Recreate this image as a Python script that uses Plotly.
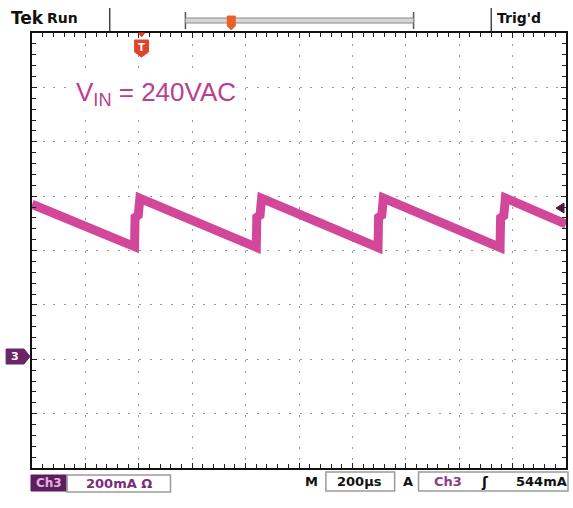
import plotly.graph_objects as go

# ---- data ----
time_us = [0, 384, 386, 398, 404, 840, 842, 854, 860, 1296, 1298, 1310, 1316,
           1753, 1755, 1767, 1773, 2000]
current_mA = [570, 414, 522, 530, 592, 412, 522, 530, 592, 411, 522, 530, 593,
              411, 520, 528, 593, 497]

x_range = [0, 2000]      # 200 us/div, 10 div
y_range = [-400, 1200]   # 200 mA/div, 8 div, ground 2 div above bottom
x_div = 200
y_div = 200

W, H = 573, 508
L, R, T, B = 32, 5, 33, 40
PW, PH = W - L - R, H - T - B

def X(px):
    return (px - L) / PW

def Y(py):
    return (H - B - py) / PH

TRACE = "#d2479a"
PURPLE = "#6a2468"
FONT = "DejaVu Sans"

fig = go.Figure()
fig.add_trace(go.Scatter(x=time_us, y=current_mA, mode="lines",
                         line=dict(color=TRACE, width=9),
                         hoverinfo="skip", showlegend=False))

axis_common = dict(showline=True, linecolor="#111", linewidth=2, mirror="ticks",
                   ticks="inside", ticklen=5, tickcolor="#222", tickwidth=1,
                   showticklabels=False, zeroline=False, gridcolor="#9a9a9a",
                   gridwidth=1, fixedrange=True)

fig.update_xaxes(range=x_range, dtick=x_div, tick0=0, griddash="2px,8.9px",
                 minor=dict(dtick=x_div / 5, ticks="inside", ticklen=4,
                            tickcolor="#222", showgrid=False),
                 **axis_common)
fig.update_yaxes(range=y_range, dtick=y_div, tick0=0, griddash="2px,8.7px",
                 minor=dict(dtick=y_div / 5, ticks="inside", ticklen=4,
                            tickcolor="#222", showgrid=False),
                 **axis_common)

shapes = []
ann = []

def text(px, py, s, size=13, color="#111", xanchor="center", bold=True, bg=None, family=FONT):
    d = dict(x=X(px), y=Y(py), xref="paper", yref="paper", text=("<b>%s</b>" % s) if bold else s,
             showarrow=False, xanchor=xanchor, yanchor="middle", borderpad=0,
             font=dict(size=size, color=color, family=family))
    if bg:
        d["bgcolor"] = bg
    ann.append(d)

def rect(x0, y0, x1, y1, fill=None, line="#9a9a9a", lw=1.5):
    shapes.append(dict(type="rect", xref="paper", yref="paper",
                       x0=X(x0), x1=X(x1), y0=Y(y0), y1=Y(y1),
                       fillcolor=fill if fill else "rgba(0,0,0,0)",
                       line=dict(color=line, width=lw)))

def line(x0, y0, x1, y1, color="#333", w=1.5):
    shapes.append(dict(type="line", xref="paper", yref="paper",
                       x0=X(x0), x1=X(x1), y0=Y(y0), y1=Y(y1),
                       line=dict(color=color, width=w)))

def poly(pts, fill, line_color=None):
    p = "M " + " L ".join("%f,%f" % (X(a), Y(b)) for a, b in pts) + " Z"
    shapes.append(dict(type="path", xref="paper", yref="paper", path=p,
                       fillcolor=fill, line=dict(color=line_color or fill, width=1)))

# ---- top status bar ----
text(10, 18, "Tek", size=17, xanchor="left")
text(46, 18, "Run", size=14, xanchor="left")
line(110, 8, 110, 31, "#444", 1.5)
line(186, 12, 186, 29, "#555", 1.5)
line(415, 12, 415, 29, "#555", 1.5)
rect(186, 18, 415, 23, fill="#d6d6d6", line="#8a8a8a", lw=1)
poly([(228, 16), (236, 16), (236, 26), (232, 30), (228, 26)], "#e8602c")
line(493, 8, 493, 31, "#444", 1.5)
text(498, 18, "Trig'd", size=14, xanchor="left")

# trigger position marker
poly([(139, 33), (145, 33), (142, 37)], "#e0452b")
poly([(135, 40), (149, 40), (149, 52), (142, 57), (135, 52)], "#e0452b")
text(142, 47, "T", size=10, color="white")

# trigger level arrow at right
poly([(566, 203), (566, 213), (558, 208)], "#4a1a40")

# channel 3 ground marker
poly([(6, 349), (24, 349), (30, 356.5), (24, 364), (6, 364)], PURPLE)
text(15, 356.5, "3", size=11, color="white")

# annotation
text(75, 93, "V<sub>IN</sub> = 240VAC", size=26, color="#b8408f", xanchor="left",
     bold=False, bg="white", family="Liberation Sans")

# ---- bottom readout ----
rect(31, 475, 67, 491, fill="#5b1f5b", line="#5b1f5b", lw=1)
text(49, 483, "Ch3", size=12, color="#e8aee0")
rect(67, 475, 171, 492)
text(119, 483, "200mA Ω", size=13, color="#7b2d78")
text(313, 482, "M", size=13)
rect(327, 472, 396, 491)
text(361, 482, "200µs", size=13)
text(409, 482, "A", size=13)
rect(420, 472, 570, 491)
text(450, 482, "Ch3", size=13, color="#8e3a8a")
text(487, 482, "ʃ", size=14)
text(543, 482, "544mA", size=13)

fig.update_layout(width=W, height=H, margin=dict(l=L, r=R, t=T, b=B),
                  paper_bgcolor="white", plot_bgcolor="white",
                  shapes=shapes, annotations=ann, showlegend=False)

fig.write_html("out.html", config=dict(responsive=False, displayModeBar=False),
               post_script="document.body.style.margin='0';document.body.style.padding='0';")
